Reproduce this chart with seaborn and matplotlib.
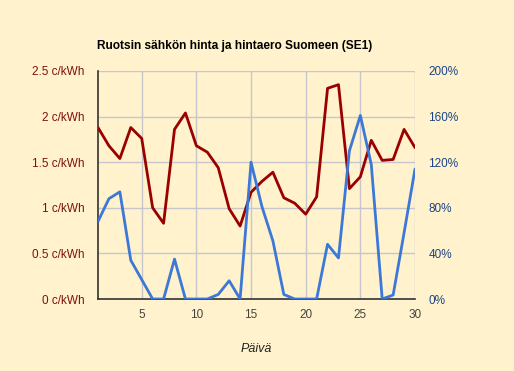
import matplotlib
matplotlib.use("Agg")
import matplotlib.pyplot as plt
import seaborn as sns
import pandas as pd
from matplotlib.ticker import FuncFormatter

days = list(range(1, 31))
price = [1.88, 1.68, 1.54, 1.88, 1.76, 1.00, 0.83, 1.86, 2.04, 1.68,
         1.61, 1.44, 0.99, 0.80, 1.17, 1.29, 1.39, 1.11, 1.05, 0.93,
         1.12, 2.31, 2.35, 1.21, 1.34, 1.74, 1.52, 1.53, 1.86, 1.66]
diff_pct = [68, 88, 94, 34, 17, 0, 0, 35, 0, 0,
            0, 4, 16, 0, 120, 81, 51, 4, 0, 0,
            0, 48, 36, 130, 161, 118, 0, 3.5, 58, 114]
left_ticks = [0, 0.5, 1, 1.5, 2, 2.5]
right_ticks = [0, 40, 80, 120, 160, 200]
x_ticks = [5, 10, 15, 20, 25, 30]
title = "Ruotsin sähkön hinta ja hintaero Suomeen (SE1)"
xlabel = "Päivä"

df = pd.DataFrame({"day": days, "price": price, "diff": diff_pct})

sns.set_theme(style="white")
plt.rcParams['font.family'] = ['Liberation Sans', 'DejaVu Sans']

bg = "#fff2cc"
fig = plt.figure(figsize=(5.14, 3.71), dpi=100, facecolor=bg)
ax = fig.add_axes([98/514, 1-299/371, (415-98)/514, (299-71)/371])
ax.set_facecolor(bg)
ax2 = ax.twinx()

sns.lineplot(data=df, x="day", y="price", ax=ax, color="#990000", linewidth=2, zorder=3)
sns.lineplot(data=df, x="day", y="diff", ax=ax2, color="#3c78d8", linewidth=2, zorder=3)

ax.set_xlim(1, 30)
ax.set_ylim(0, 2.5)
ax2.set_ylim(0, 200)
ax.set_xticks(x_ticks)
ax.set_yticks(left_ticks)
ax2.set_yticks(right_ticks)

ax.yaxis.set_major_formatter(FuncFormatter(lambda v, p: f"{v:g} c/kWh"))
ax2.yaxis.set_major_formatter(FuncFormatter(lambda v, p: f"{v:g}%"))

ax.grid(True, color="#c6c6cc", linewidth=1)
ax.set_axisbelow(True)
ax2.grid(False)

for s in ["top", "right"]:
    ax.spines[s].set_visible(False)
    ax2.spines[s].set_visible(False)
ax2.spines["left"].set_visible(False)
ax2.spines["bottom"].set_visible(False)
ax.spines["left"].set_color("#333333")
ax.spines["bottom"].set_color("#333333")
ax.spines["left"].set_linewidth(1.2)
ax.spines["bottom"].set_linewidth(1.2)

ax.tick_params(axis="y", colors="#7f1010", labelsize=8.5, length=0, pad=9.5)
ax.tick_params(axis="x", colors="#444444", labelsize=8.5, length=0, pad=7)
ax2.tick_params(axis="y", colors="#1c4587", labelsize=8.5, length=0, pad=9.5)

ax.set_ylabel("")
ax2.set_ylabel("")
ax.set_xlabel(xlabel, fontsize=9, style="italic", color="#222222", labelpad=16)

fig.text(97/514, 1-46/371, title, fontsize=8.6, fontweight="bold", color="#000000",
         ha="left", va="center")

fig.savefig("out.png", dpi=100, facecolor=bg)
